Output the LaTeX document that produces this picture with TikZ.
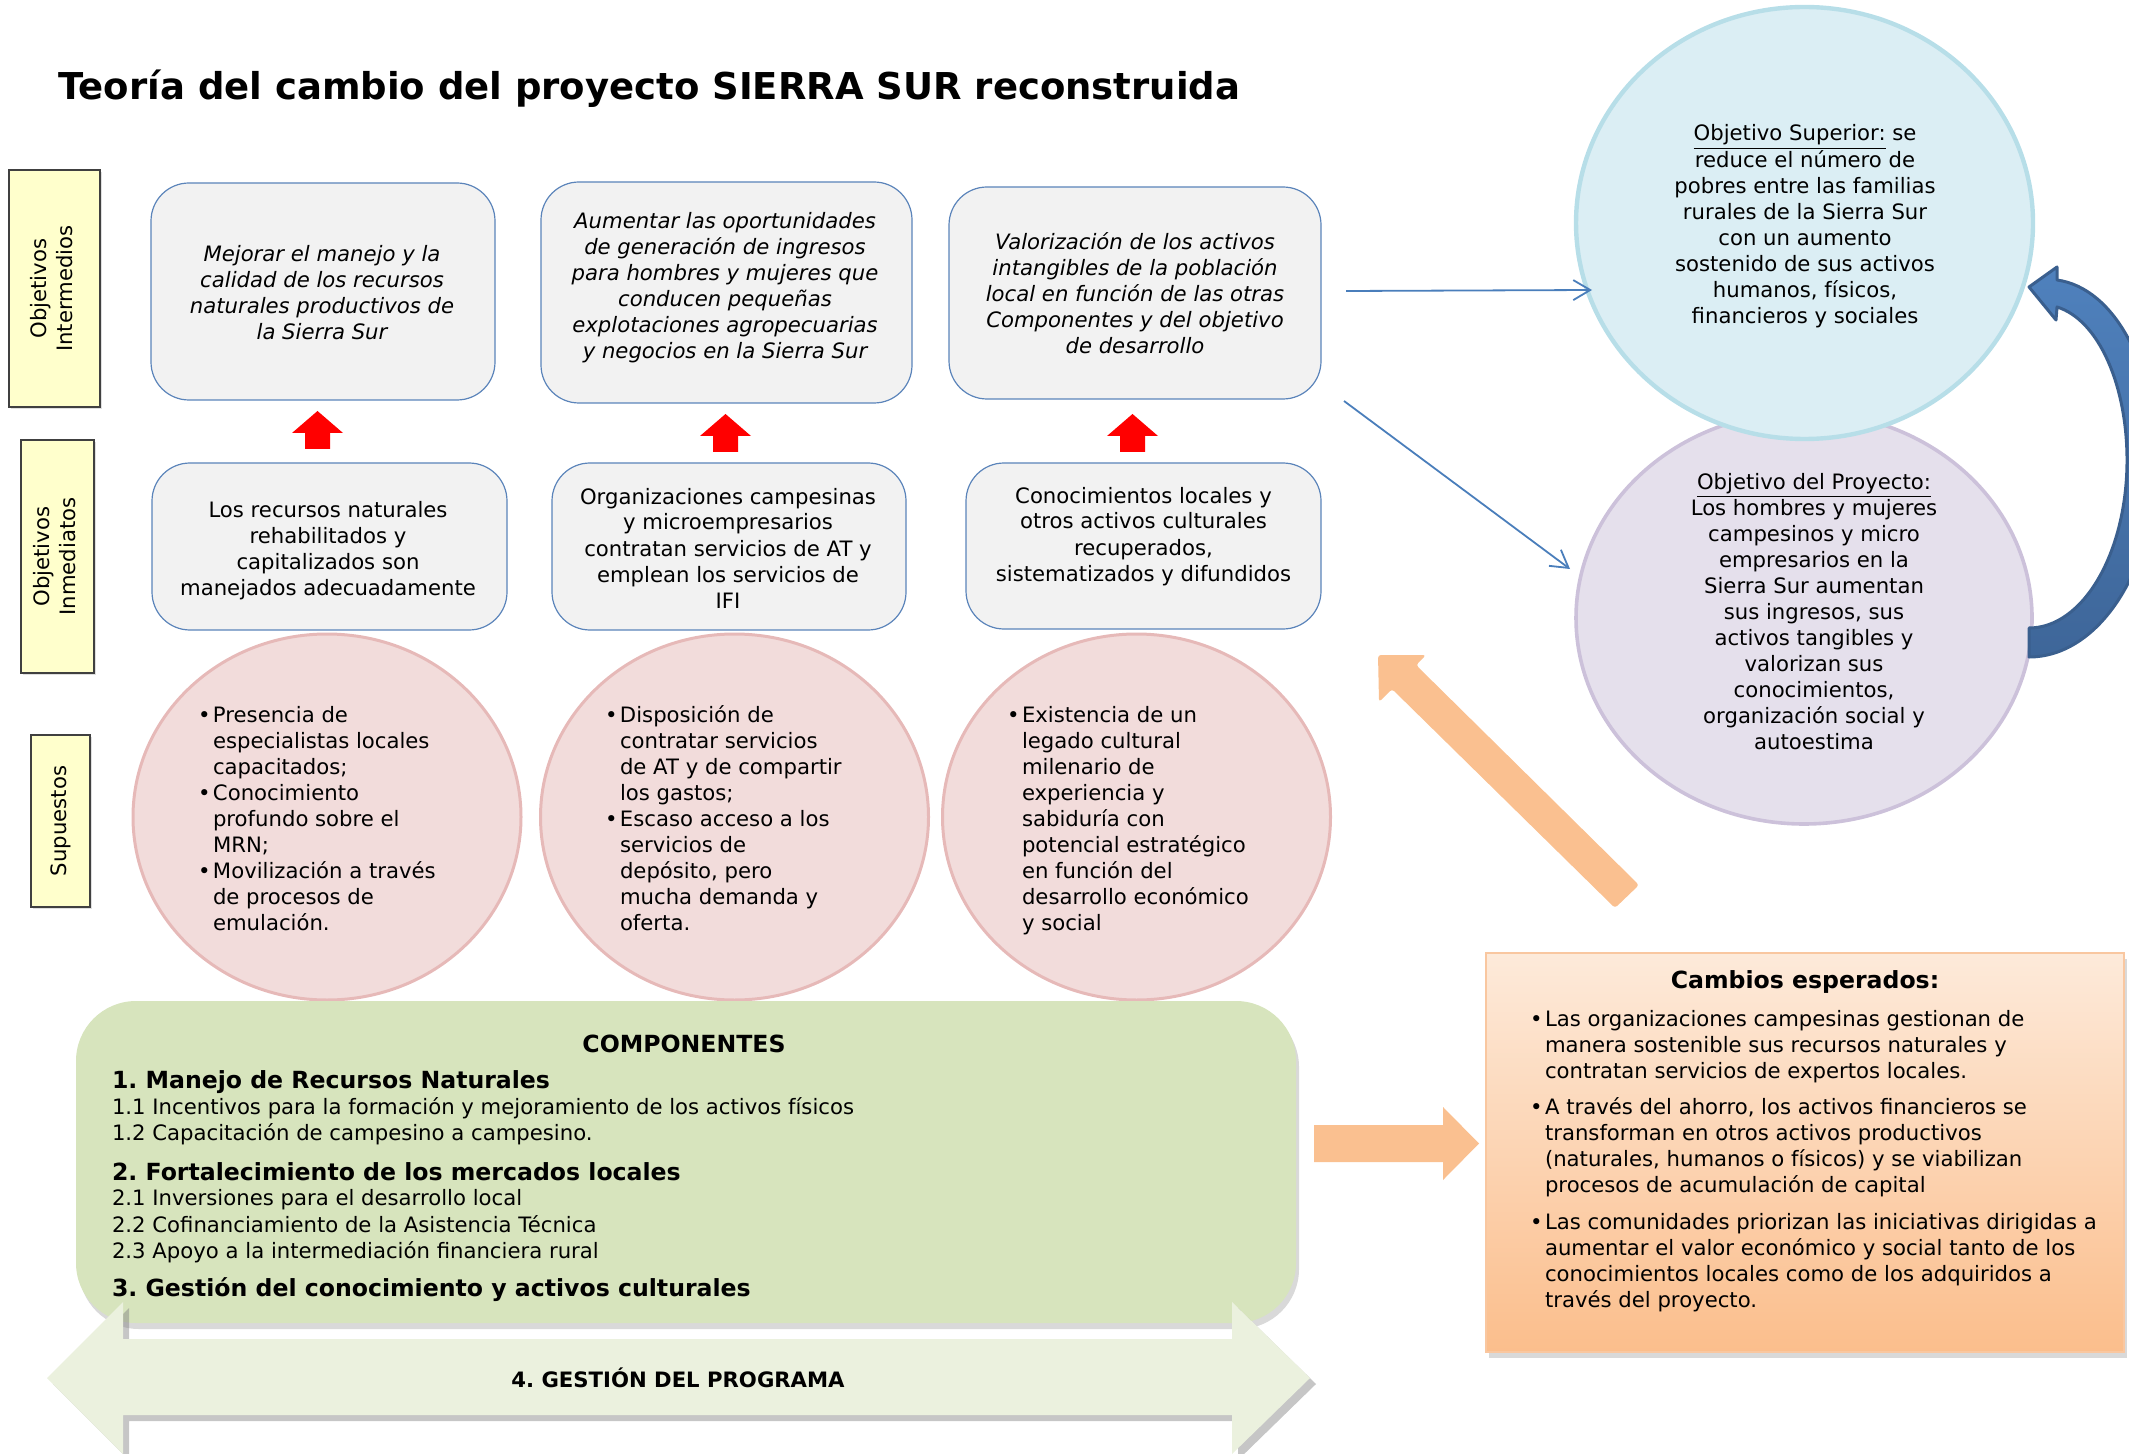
\documentclass[tikz,border=0pt]{standalone}
\usepackage{fontspec}
\setmainfont{DejaVu Sans}
\usetikzlibrary{shapes.geometric,arrows.meta,shadows}
\frenchspacing
\definecolor{boxfill}{HTML}{F2F2F2}
\definecolor{boxline}{HTML}{5B84BA}
\definecolor{ylfill}{HTML}{FFFFCC}
\definecolor{elfill}{HTML}{F2DCDB}
\definecolor{elline}{HTML}{E6B9B8}
\definecolor{supfill}{HTML}{DBEEF4}
\definecolor{supline}{HTML}{B7DEE8}
\definecolor{profill}{HTML}{E5E0EC}
\definecolor{proline}{HTML}{CCC1DA}
\definecolor{grfill}{HTML}{D7E4BD}
\definecolor{gafill}{HTML}{EBF1DE}
\definecolor{orfill}{HTML}{FAC090}
\definecolor{obtop}{HTML}{FDEADA}
\definecolor{obbot}{HTML}{FBBE8C}
\definecolor{obline}{HTML}{F9C7A0}
\definecolor{thinblue}{HTML}{4A7EBB}
\definecolor{cvtop}{HTML}{4F81BD}
\definecolor{cvbot}{HTML}{3E6699}
\definecolor{cvline}{HTML}{3A5F8E}
\newcommand{\ctab}[1]{\begin{tabular}[t]{@{}c@{}}#1\end{tabular}}
\newcommand{\btab}[1]{\begin{tabular}[t]{@{}l@{}l@{}}#1\end{tabular}}
\newcommand{\bu}{\makebox[7.5pt][l]{•}}
\tikzset{
  bodyfont/.style={font=\fontsize{10.6}{13}\selectfont\frenchspacing},
  txt/.style={bodyfont, inner sep=0pt, outer sep=0pt},
  itx/.style={font=\fontsize{10.6}{13}\selectfont\itshape\frenchspacing, inner sep=0pt, outer sep=0pt},
  hd/.style={font=\fontsize{11.8}{14}\selectfont\bfseries\frenchspacing, inner sep=0pt, outer sep=0pt},
  rbox/.style={draw=boxline, fill=boxfill, line width=0.6pt, rounded corners=19pt, inner sep=0pt},
  ylab/.style={draw=black!75, fill=ylfill, line width=0.7pt, inner sep=0pt, bodyfont,
     drop shadow={shadow xshift=1.2pt, shadow yshift=-1.2pt, opacity=0.25}},
  supel/.style={ellipse, draw=elline, fill=elfill, line width=1.5pt, inner sep=0pt,
     minimum width=194pt, minimum height=183pt},
  redarr/.style={fill=red},
  orarr/.style={fill=orfill},
  thinarr/.style={draw=thinblue, line width=0.9pt, -{Straight Barb[length=8.5pt,width=10pt]}},
}
\begin{document}
\begin{tikzpicture}[x=0.5pt,y=-0.5pt]
\useasboundingbox (0,0) rectangle (2129,1454);
\clip (0,0) rectangle (2129,1454);

% title
\node[font=\fontsize{18.5}{22}\selectfont\bfseries, inner sep=0pt, anchor=base west] (title) at (58,100)
  {Teoría del cambio del proyecto SIERRA SUR reconstruida};

% left labels
\node[ylab, minimum width=45.5pt, minimum height=118.5pt] (lab1) at (54.5,288.5)
  {\rotatebox{90}{\ctab{Objetivos\\Intermedios}}};
\node[ylab, minimum width=36.5pt, minimum height=116.5pt] (lab2) at (57.5,556.5)
  {\rotatebox{90}{\ctab{Objetivos\\Inmediatos}}};
\node[ylab, minimum width=29.5pt, minimum height=86pt] (lab3) at (60.5,821)
  {\rotatebox{90}{Supuestos}};

% intermediate objectives
\node[rbox, minimum width=172pt, minimum height=108.5pt] (bA) at (323,291.5) {};
\node[rbox, minimum width=185.5pt, minimum height=110.5pt] (bB) at (726.5,292.5) {};
\node[rbox, minimum width=186pt, minimum height=106pt] (bC) at (1135,293) {};
\node[itx, anchor=base] (tA) at (322,262) {\ctab{Mejorar el manejo y la\\calidad de los recursos\\naturales productivos de\\la Sierra Sur}};
\node[itx, anchor=base] (tB) at (725,229) {\ctab{Aumentar las oportunidades\\de generación de ingresos\\para hombres y mujeres que\\conducen pequeñas\\explotaciones agropecuarias\\y negocios en la Sierra Sur}};
\node[itx, anchor=base] (tC) at (1135,250) {\ctab{Valorización de los activos\\intangibles de la población\\local en función de las otras\\Componentes y del objetivo\\de desarrollo}};

% immediate objectives
\node[rbox, minimum width=177.5pt, minimum height=83.5pt] (bD) at (329.5,546.5) {};
\node[rbox, minimum width=177pt, minimum height=83.5pt] (bE) at (729,546.5) {};
\node[rbox, minimum width=177.5pt, minimum height=83pt] (bF) at (1143.5,546) {};
\node[txt, anchor=base] (tD) at (328,517) {\ctab{Los recursos naturales\\rehabilitados y\\capitalizados son\\manejados adecuadamente}};
\node[txt, anchor=base] (tE) at (728,504) {\ctab{Organizaciones campesinas\\y microempresarios\\contratan servicios de AT y\\emplean los servicios de\\IFI}};
\node[txt, anchor=base] (tF) at (1143.5,503) {\ctab{Conocimientos locales y\\otros activos culturales\\recuperados,\\sistematizados y difundidos}};

% red arrows
\fill[redarr] (305,449) -- (305,433) -- (292,433) -- (317.5,411) -- (343,433) -- (330,433) -- (330,449) -- cycle;
\fill[redarr] (713,452) -- (713,436) -- (700,436) -- (725.5,414) -- (751,436) -- (738,436) -- (738,452) -- cycle;
\fill[redarr] (1120,452) -- (1120,436) -- (1107,436) -- (1132.5,414) -- (1158,436) -- (1145,436) -- (1145,452) -- cycle;

% assumptions
\node[supel] (e1) at (327,817) {};
\node[supel] (e2) at (734.5,817) {};
\node[supel] (e3) at (1136.5,817) {};
\node[txt, anchor=base west] (e1t) at (198,722) {\btab{\bu & Presencia de\\ & especialistas locales\\ & capacitados;\\ \bu & Conocimiento\\ & profundo sobre el\\ & MRN;\\ \bu & Movilización a través\\ & de procesos de\\ & emulación.}};
\node[txt, anchor=base west] (e2t) at (605,722) {\btab{\bu & Disposición de\\ & contratar servicios\\ & de AT y de compartir\\ & los gastos;\\ \bu & Escaso acceso a los\\ & servicios de\\ & depósito, pero\\ & mucha demanda y\\ & oferta.}};
\node[txt, anchor=base west] (e3t) at (1007,722) {\btab{\bu & Existencia de un\\ & legado cultural\\ & milenario de\\ & experiencia y\\ & sabiduría con\\ & potencial estratégico\\ & en función del\\ & desarrollo económico\\ & y social}};

% right circles
\node[ellipse, draw=proline, fill=profill, line width=1.8pt, inner sep=0pt, minimum width=228pt, minimum height=206pt] (pro) at (1804,618) {};
\node[ellipse, draw=supline, fill=supfill, line width=2.2pt, inner sep=0pt, minimum width=228.5pt, minimum height=216pt] (sup) at (1804.5,223) {};
\node[txt, anchor=base] (supt) at (1805,141) {\ctab{\underline{Objetivo Superior:} se\\reduce el número de\\pobres entre las familias\\rurales de la Sierra Sur\\con un aumento\\sostenido de sus activos\\humanos, físicos,\\financieros y sociales}};
\node[txt, anchor=base] (prot) at (1814,489) {\ctab{\underline{Objetivo del Proyecto:}\\Los hombres y mujeres\\campesinos y micro\\empresarios en la\\Sierra Sur aumentan\\sus ingresos, sus\\activos tangibles y\\valorizan sus\\conocimientos,\\organización social y\\autoestima}};

% thin arrows
\coordinate (a1s) at (1346,291);
\coordinate (a1e) at (1592,290);
\coordinate (a2s) at (1344,401);
\coordinate (a2e) at (1570,569);
\draw[thinarr] (a1s) -- (a1e);
\draw[thinarr] (a2s) -- (a2e);

% curved arrow
\shade[top color=cvtop, bottom color=cvbot, draw=cvline, line width=1.5pt, line join=round]
  (2029,628) .. controls (2083,628) and (2127,553) .. (2127,460)
  .. controls (2127,386) and (2099,320) .. (2057,307)
  -- (2056,320) -- (2029,287) -- (2057,267) -- (2057,280)
  .. controls (2115,288) and (2156,368) .. (2156,460)
  .. controls (2156,569) and (2099,657) .. (2029,657) -- cycle;

% diagonal orange arrow
\fill[orarr, rounded corners=1.5pt] (1378,655) -- (1426,655) -- (1416,665) -- (1639,885) -- (1615,908) -- (1392,689) -- (1379,702) -- cycle;

% components box
\node[draw=none, fill=grfill, rounded corners=30pt, inner sep=0pt, minimum width=610pt, minimum height=161pt,
  drop shadow={shadow xshift=1.5pt, shadow yshift=-3pt, opacity=0.3}] (comp) at (686,1162) {};
\node[hd, anchor=base] (compt) at (684,1052) {COMPONENTES};
\node[hd, anchor=base west] (c1) at (112,1088) {1. Manejo de Recursos Naturales};
\node[txt, anchor=base west] (c11) at (112,1114) {1.1 Incentivos para la formación y mejoramiento de los activos físicos};
\node[txt, anchor=base west] (c12) at (112,1140) {1.2 Capacitación de campesino a campesino.};
\node[hd, anchor=base west] (c2) at (112,1180) {2. Fortalecimiento de los mercados locales};
\node[txt, anchor=base west] (c21) at (112,1205) {2.1 Inversiones para el desarrollo local};
\node[txt, anchor=base west] (c22) at (112,1232) {2.2 Cofinanciamiento de la Asistencia Técnica};
\node[txt, anchor=base west] (c23) at (112,1258) {2.3 Apoyo a la intermediación financiera rural};
\node[hd, anchor=base west] (c3) at (112,1296) {3. Gestión del conocimiento y activos culturales};

% program double arrow
\fill[gafill, drop shadow={shadow xshift=3pt, shadow yshift=-3pt, opacity=0.45}]
  (47,1378) -- (123,1302) -- (123,1339) -- (1232,1339) -- (1232,1302) -- (1310,1378)
  -- (1232,1454) -- (1232,1415) -- (123,1415) -- (123,1454) -- cycle;
\node[font=\fontsize{10.6}{13}\selectfont\bfseries\frenchspacing, inner sep=0pt, anchor=base] (prog) at (678,1387) {4. GESTIÓN DEL PROGRAMA};

% horizontal orange arrow
\fill[orarr] (1314,1125) -- (1443,1125) -- (1443,1107) -- (1479,1143.5) -- (1443,1180) -- (1443,1162) -- (1314,1162) -- cycle;

% expected changes
\node[draw=obline, line width=0.8pt, top color=obtop, bottom color=obbot, inner sep=0pt,
  minimum width=319pt, minimum height=199.5pt,
  drop shadow={shadow xshift=1.5pt, shadow yshift=-3pt, opacity=0.3}] (camb) at (1805,1152.5) {};
\node[hd, anchor=base] (cambt) at (1805,988) {Cambios esperados:};
\node[txt, anchor=base west] (cambl) at (1530,1026) {\btab{\bu & Las organizaciones campesinas gestionan de\\ & manera sostenible sus recursos naturales y\\ & contratan servicios de expertos locales.\\[5pt]
 \bu & A través del ahorro, los activos financieros se\\ & transforman en otros activos productivos\\ & (naturales, humanos o físicos) y se viabilizan\\ & procesos de acumulación de capital\\[5.5pt]
 \bu & Las comunidades priorizan las iniciativas dirigidas a\\ & aumentar el valor económico y social tanto de los\\ & conocimientos locales como de los adquiridos a\\ & través del proyecto.}};
\end{tikzpicture}
\end{document}
